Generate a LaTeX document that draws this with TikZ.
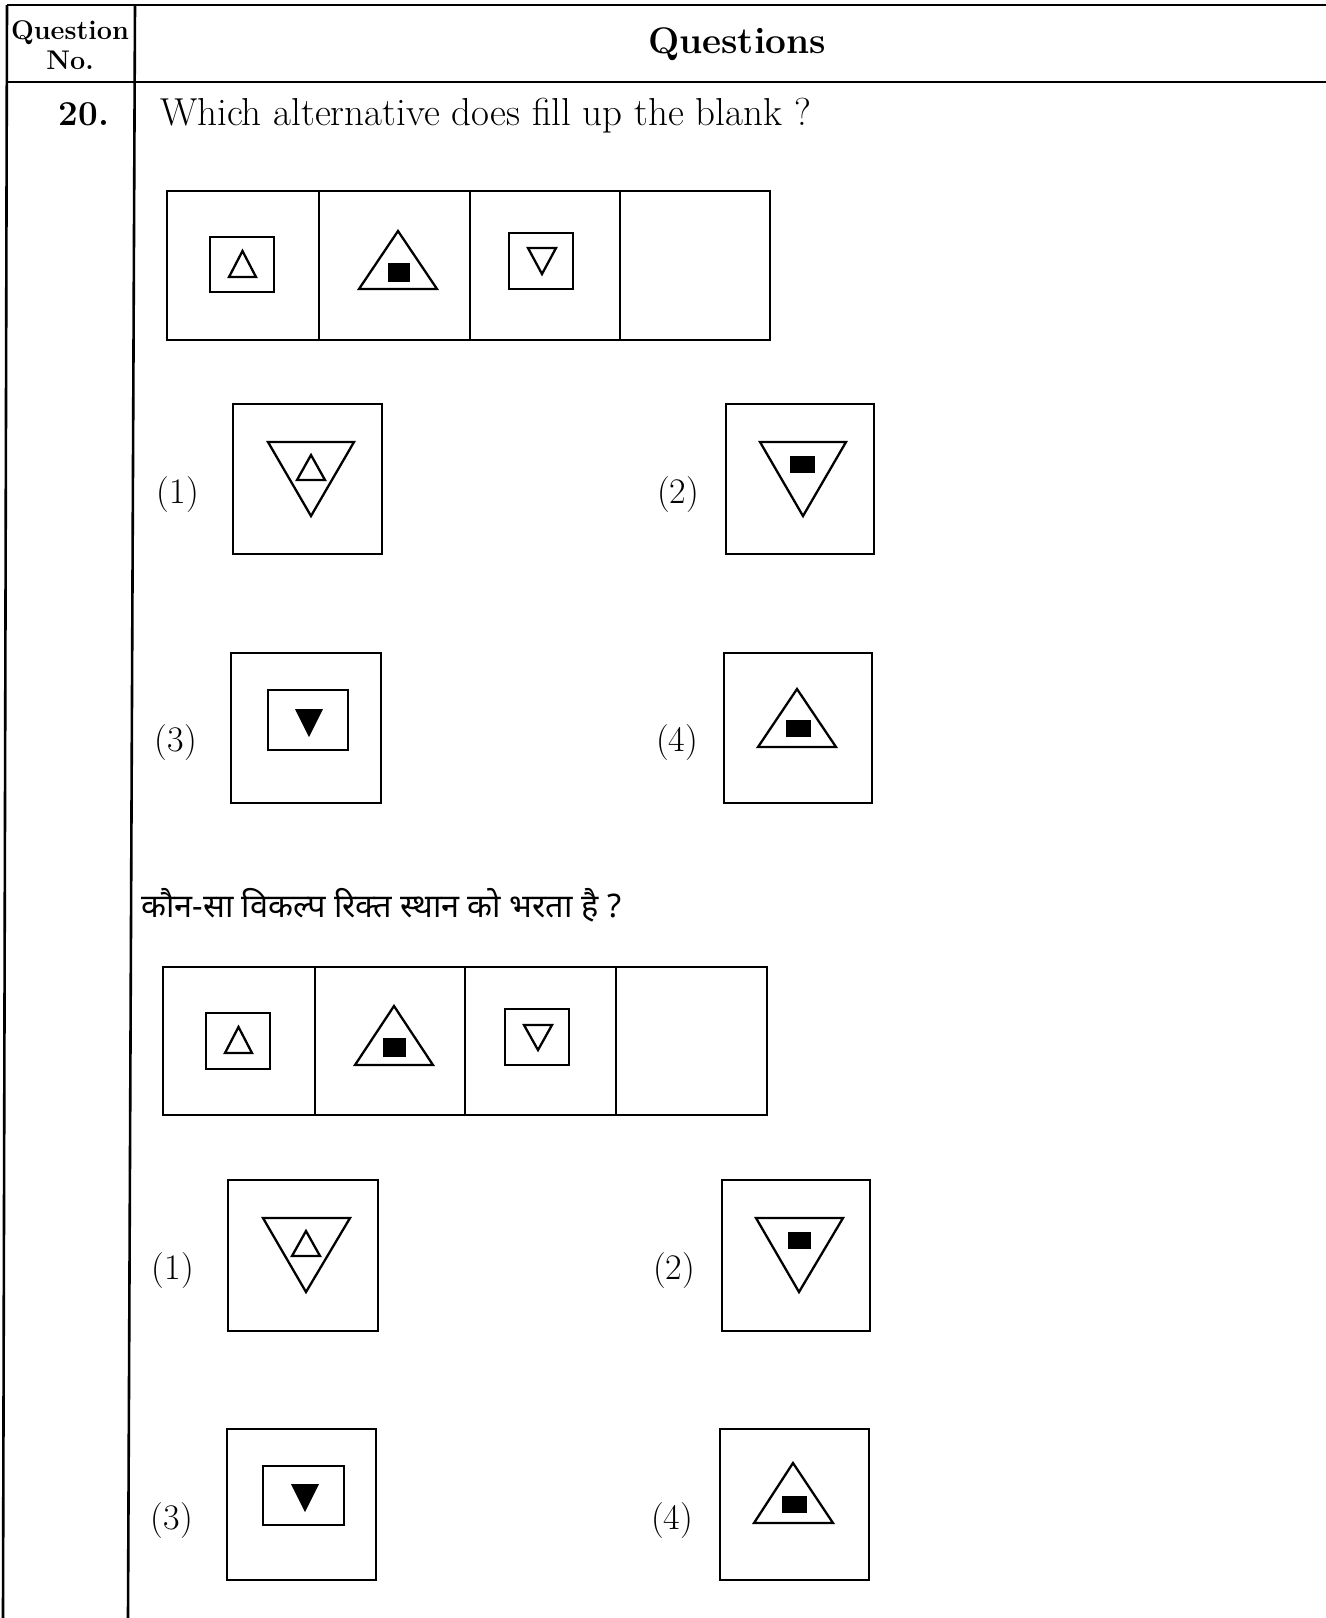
\documentclass[tikz,border=0pt]{standalone}
\usepackage{fontspec}
\newfontfamily\hindi[Script=Devanagari]{Noto Sans}
\begin{document}
\begin{tikzpicture}[x=1pt,y=-1pt,
  rule/.style={line width=2.6pt},
  frame/.style={line width=2.6pt},
  tri/.style={line width=2.3pt,line join=miter},
  blk/.style={fill=black},
  big/.style={font=\fontsize{39}{45}\selectfont,inner sep=0pt},
  lbl/.style={font=\fontsize{36}{42}\selectfont,inner sep=0pt},
  hdr/.style={font=\bfseries\fontsize{27}{32}\selectfont,inner sep=0pt}]
\useasboundingbox (0,0) rectangle (1326,1618);
\fill[white] (0,0) rectangle (1326,1618);
% table rules
\draw[rule] (7,5) -- (1326,5);
\draw[rule] (7,82) -- (1326,82);
\draw[rule] (7,5) -- (3,1618);
\draw[rule] (135,5) -- (128,1618);
% header texts
\node[hdr,anchor=base] (hq) at (70,39) {Question};
\node[hdr,anchor=base] (hn) at (70,69) {No.};
\node[inner sep=0pt,font=\bfseries\fontsize{37}{44}\selectfont,anchor=base] (hqs) at (737,53) {Questions};
\node[inner sep=0pt,font=\bfseries\fontsize{35}{42}\selectfont,anchor=base] (qno) at (84,125) {20.};
\node[big,anchor=base west] (qtext) at (160,125) {Which alternative does fill up the blank ?};
% ---------- top strip ----------
\draw[frame] (167,191) rectangle (770,340);
\draw[frame] (319,191) -- (319,340);
\draw[frame] (470,191) -- (470,340);
\draw[frame] (620,191) -- (620,340);
\draw[frame] (210,237) rectangle (274,292);
\draw[tri] (242.5,251) -- (256,277) -- (229,277) -- cycle;
\draw[tri] (398,231) -- (437,289) -- (359,289) -- cycle;
\fill[blk] (388,263) rectangle (410,282);
\draw[frame] (509,233) rectangle (573,289);
\draw[tri] (528,248) -- (556,248) -- (542,274) -- cycle;
% options (1)-(4)
\node[lbl] (a1) at (178,495) {(1)};
\draw[frame] (233,404) rectangle (382,554);
\draw[tri] (268,442) -- (354,442) -- (311,516) -- cycle;
\draw[tri] (311,455) -- (325,480) -- (297,480) -- cycle;
\node[lbl] (a2) at (678,495) {(2)};
\draw[frame] (726,404) rectangle (874,554);
\draw[tri] (760,442) -- (846,442) -- (803,516) -- cycle;
\fill[blk] (790,456) rectangle (815,473);
\node[lbl] (a3) at (176,743) {(3)};
\draw[frame] (231,653) rectangle (381,803);
\draw[frame] (268,690) rectangle (348,750);
\fill[blk] (295,709) -- (323,709) -- (309,737) -- cycle;
\node[lbl] (a4) at (677,743) {(4)};
\draw[frame] (724,653) rectangle (872,803);
\draw[tri] (797,689) -- (836,747) -- (758,747) -- cycle;
\fill[blk] (786,720) rectangle (811,737);
% ---------- Hindi ----------
\node[inner sep=0pt,anchor=base west,font=\hindi\fontsize{32.5}{38}\selectfont] (htext) at (141,917) {कौन-सा विकल्प रिक्त स्थान को भरता है ?};
% ---------- bottom strip ----------
\draw[frame] (163,967) rectangle (767,1115);
\draw[frame] (315,967) -- (315,1115);
\draw[frame] (465,967) -- (465,1115);
\draw[frame] (616,967) -- (616,1115);
\draw[frame] (206,1013) rectangle (270,1069);
\draw[tri] (238.5,1027) -- (252,1053) -- (225,1053) -- cycle;
\draw[tri] (394,1006) -- (433,1065) -- (355,1065) -- cycle;
\fill[blk] (383,1038) rectangle (406,1057);
\draw[frame] (505,1009) rectangle (569,1065);
\draw[tri] (524,1025) -- (552,1025) -- (538,1050) -- cycle;
% options (1)-(4) Hindi part
\node[lbl] (b1) at (173,1271) {(1)};
\draw[frame] (228,1180) rectangle (378,1331);
\draw[tri] (263,1218) -- (350,1218) -- (306,1292) -- cycle;
\draw[tri] (306,1231) -- (320,1256) -- (292,1256) -- cycle;
\node[lbl] (b2) at (674,1271) {(2)};
\draw[frame] (722,1180) rectangle (870,1331);
\draw[tri] (756,1218) -- (843,1218) -- (799,1292) -- cycle;
\fill[blk] (788,1232) rectangle (811,1249);
\node[lbl] (b3) at (172,1520) {(3)};
\draw[frame] (227,1429) rectangle (376,1580);
\draw[frame] (263,1466) rectangle (344,1525);
\fill[blk] (291,1484) -- (319,1484) -- (305,1512) -- cycle;
\node[lbl] (b4) at (672,1520) {(4)};
\draw[frame] (720,1429) rectangle (869,1580);
\draw[tri] (793,1463) -- (833,1523) -- (754,1523) -- cycle;
\fill[blk] (782,1496) rectangle (807,1513);
\end{tikzpicture}
\end{document}
